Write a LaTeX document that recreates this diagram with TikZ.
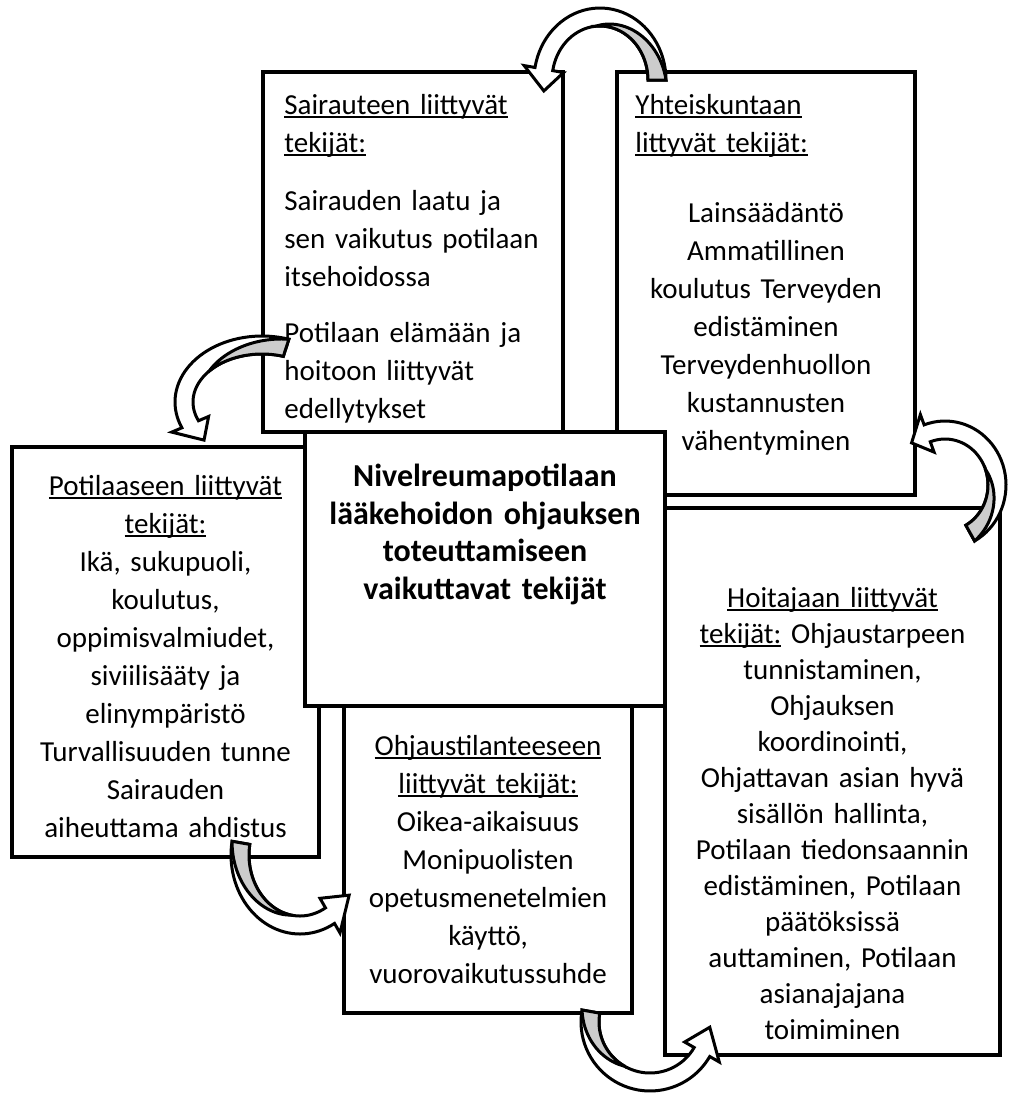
\documentclass[tikz,border=0pt]{standalone}
\usepackage{fontspec}
\setmainfont{Carlito}
\usetikzlibrary{positioning,fit}

% underline close to the baseline, as in the word processor
\newcommand{\undl}[1]{\leavevmode\setbox0=\hbox{#1}\rlap{\rule[-1.8pt]{\wd0}{0.9pt}}\box0\relax}

% curved block arrow: cx, cy, rx, ry, tail angle, head angle, tip angle, end of shade
\newcommand{\warrow}[8]{%
\filldraw[arrowband] plot[domain=#5:#6,samples=40] ({#1+(#3+9)*cos(\x)},{#2+(#4+9)*sin(\x)})
  -- ({#1+(#3+20)*cos(#6)},{#2+(#4+20)*sin(#6)})
  -- ({#1+#3*cos(#7)},{#2+#4*sin(#7)})
  -- ({#1+(#3-20)*cos(#6)},{#2+(#4-20)*sin(#6)})
  -- plot[domain=#6:#5,samples=40] ({#1+(#3-9)*cos(\x)},{#2+(#4-9)*sin(\x)})
  -- cycle;
\filldraw[arrowshade] plot[domain=#5:#8,samples=30] ({#1+(#3+9-18*(\x-(#5))/((#8)-(#5)))*cos(\x)},{#2+(#4+9-18*(\x-(#5))/((#8)-(#5)))*sin(\x)})
  -- plot[domain=#8:#5,samples=30] ({#1+(#3-9)*cos(\x)},{#2+(#4-9)*sin(\x)})
  -- cycle;
}

\tikzset{
  box/.style={draw, line width=2pt, fill=white, inner sep=0pt},
  txt/.style={inner sep=0pt, font=\fontsize{14.5pt}{19pt}\selectfont},
  arrowband/.style={draw, line width=1.5pt, fill=white, line join=miter},
  arrowshade/.style={draw, line width=1.5pt, fill=black!20, line join=miter},
}

\begin{document}
\begin{tikzpicture}[x=0.5pt,y=-0.5pt]
\useasboundingbox (0,0) rectangle (1008,1093);

% the five boxes of factors
\node[box, fit={(263,72) (563,432)}] (sair) {};
\node[box, fit={(617,72) (915,495)}] (yht) {};
\node[box, fit={(12,447) (319,857)}] (pot) {};
\node[box, fit={(665,508) (1000,1055)}] (hoi) {};
\node[box, fit={(344,706) (632,1013)}] (ohj) {};
\node[box, fit={(305,432) (665,706)}] (keski) {};

\node[txt, text width=140pt, align=left, below right=12pt and 11.5pt of sair.north west] (sairtxt)
  {\undl{Sairauteen liittyvät}\\ \undl{tekijät:}\\[10pt]
   Sairauden laatu ja\\ sen vaikutus potilaan\\ itsehoidossa\\[9pt]
   Potilaan elämään ja\\ hoitoon liittyvät\\ edellytykset};
\node[txt, text width=130pt, align=left, below right=12pt and 10pt of yht.north west] (yhthead)
  {\undl{Yhteiskuntaan}\\ \undl{littyvät tekijät:}};
\node[txt, text width=140pt, align=center, below=66pt of yht.north] (yhtbody)
  {Lainsäädäntö\\ Ammatillinen\\ koulutus Terveyden\\ edistäminen\\
   Terveydenhuollon\\ kustannusten\\ vähentyminen};
\node[txt, text width=145pt, align=center, below=15pt of pot.north] (pottxt)
  {\undl{Potilaaseen liittyvät}\\ \undl{tekijät:}\\ Ikä, sukupuoli,\\ koulutus,\\
   oppimisvalmiudet,\\ siviilisääty ja\\ elinympäristö\\ Turvallisuuden tunne\\
   Sairauden\\ aiheuttama ahdistus};
\node[txt, font=\fontsize{14.5pt}{18pt}\selectfont, text width=160pt, align=center, below=40.5pt of hoi.north] (hoitxt)
  {\undl{Hoitajaan liittyvät}\\ \undl{tekijät:} Ohjaustarpeen\\ tunnistaminen,\\ Ohjauksen\\
   koordinointi,\\ Ohjattavan asian hyvä\\ sisällön hallinta,\\ Potilaan tiedonsaannin\\
   edistäminen, Potilaan\\ päätöksissä\\ auttaminen, Potilaan\\ asianajajana\\ toimiminen};
\node[txt, text width=140pt, align=center, below=15.5pt of ohj.north] (ohjtxt)
  {\undl{Ohjaustilanteeseen}\\ \undl{liittyvät tekijät:}\\ Oikea-aikaisuus\\ Monipuolisten\\
   opetusmenetelmien\\ käyttö,\\ vuorovaikutussuhde};
\node[txt, font=\fontsize{16pt}{18.75pt}\selectfont\bfseries, text width=176pt, align=center, below=17pt of keski.north] (keskitxt)
  {Nivelreumapotilaan\\ lääkehoidon ohjauksen\\ toteuttamiseen\\ vaikuttavat tekijät};

% curved arrows round the boxes
\warrow{600}{80}{57}{63}{0}{-170}{-190}{-95}
\warrow{262}{402}{78}{57}{-72}{-203}{-222}{-140}
\warrow{945}{485}{52}{55}{61}{-110}{-130}{-20}
\warrow{300}{855}{60}{70}{190}{60}{35}{100}
\warrow{650}{1022}{60}{60}{190}{30}{5}{120}
\end{tikzpicture}
\end{document}
